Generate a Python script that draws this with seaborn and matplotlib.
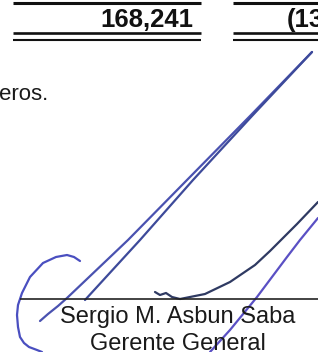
import matplotlib
matplotlib.use("Agg")
import matplotlib.pyplot as plt
import seaborn as sns
import pandas as pd

# Text on the scanned page
amount_left = "168,241"
amount_right = "(13"
word_cut = "eros."
signer_name = "Sergio M. Asbun Saba"
signer_title = "Gerente General"

# Rule segments (x start, x end) of the two amount columns
rule_starts = [13, 233]
rule_ends = [201, 318]

# Pen strokes of the signature, in page pixels
stroke_a1_x = [312, 250, 187, 128, 67, 58, 48, 40]
stroke_a1_y = [52, 116, 180, 240, 298, 306, 314, 321]
stroke_a2_x = [312, 252, 193, 140, 85]
stroke_a2_y = [52, 116, 180, 240, 300]
stroke_b_x = [80, 74, 67, 56, 43, 30, 22, 18, 17, 18, 20, 24, 29, 37, 42]
stroke_b_y = [261, 257, 255, 257, 263, 277, 293, 305, 315, 327, 337, 343, 347, 350, 352]
stroke_c_x = [155, 160, 166, 172, 180, 205, 230, 255, 270, 297, 318]
stroke_c_y = [292, 295, 293, 297, 299, 294, 282, 265, 251, 224, 202]
stroke_d_x = [318, 300, 287, 257, 230, 210]
stroke_d_y = [218, 240, 257, 297, 330, 352]

sns.set_style("white")
plt.rcParams['font.family'] = ['Liberation Sans', 'DejaVu Sans']

fig = plt.figure(figsize=(3.18, 3.52), dpi=100)
ax = fig.add_axes([0, 0, 1, 1])

# column rules: single on top, double below
ax.hlines([3] * 2, rule_starts, rule_ends, color='#111111', lw=2.2)
ax.hlines([33] * 2, rule_starts, rule_ends, color='#111111', lw=1.9)
ax.hlines([40] * 2, rule_starts, rule_ends, color='#111111', lw=1.5)

ax.text(193, 27, amount_left, ha='right', va='baseline', fontsize=18.5,
        fontweight='bold', color='#111111')
ax.text(287, 27, amount_right, ha='left', va='baseline', fontsize=18.5,
        fontweight='bold', color='#111111')
ax.text(-1, 100, word_cut, ha='left', va='baseline', fontsize=16,
        color='#1a1a1a')

# signature
strokes = [
    (stroke_a1_x, stroke_a1_y, '#4a52b0'),
    (stroke_a2_x, stroke_a2_y, '#3d4a9a'),
    (stroke_b_x, stroke_b_y, '#4a4fc0'),
    (stroke_c_x, stroke_c_y, '#2f3a62'),
    (stroke_d_x, stroke_d_y, '#5a50c4'),
]
for xs, ys, col in strokes:
    df = pd.DataFrame({'x': xs, 'y': ys})
    sns.lineplot(data=df, x='x', y='y', sort=False, estimator=None,
                 color=col, lw=1.6, ax=ax)
ax.set_xlim(0, 318)
ax.set_ylim(352, 0)
ax.axis('off')

ax.hlines(298.5, 20, 318, color='#222222', lw=1.2)
ax.text(178, 323, signer_name, ha='center', va='baseline', fontsize=17,
        color='#1a1a1a')
ax.text(178, 349.5, signer_title, ha='center', va='baseline', fontsize=17,
        color='#1a1a1a')

fig.savefig('out.png', dpi=100)
